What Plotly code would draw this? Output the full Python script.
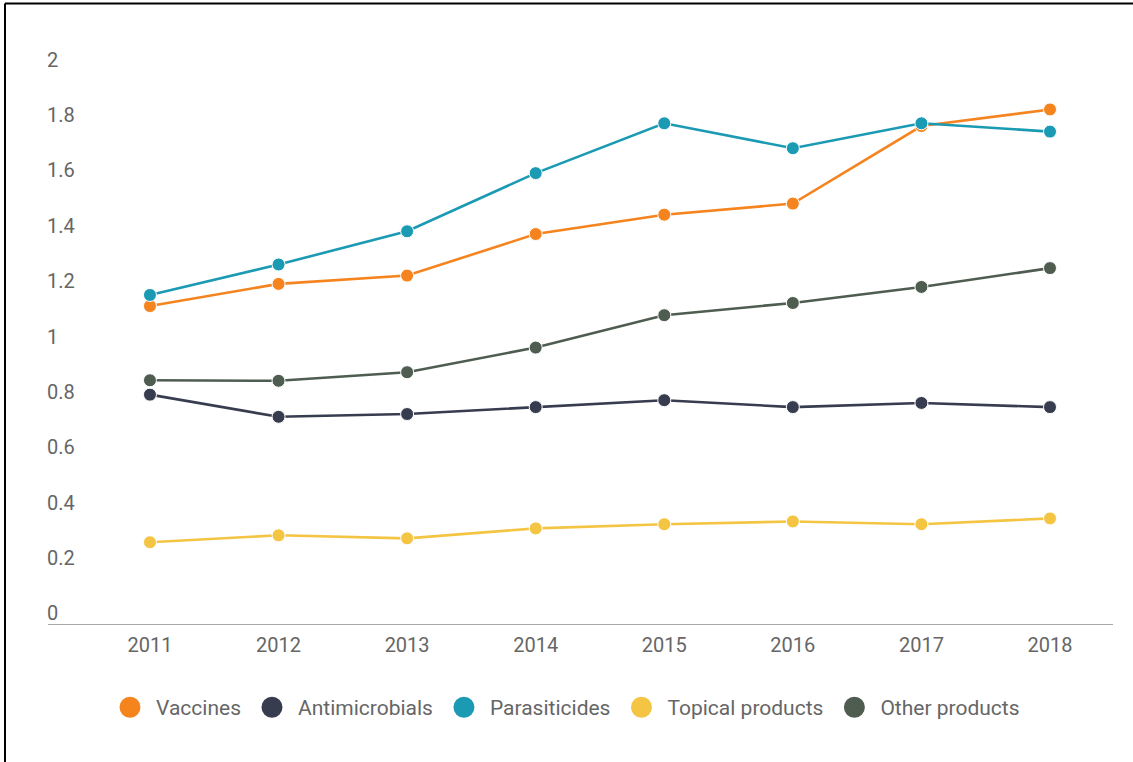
import plotly.graph_objects as go

years = [2011, 2012, 2013, 2014, 2015, 2016, 2017, 2018]

vaccines = [1.15, 1.23, 1.26, 1.41, 1.48, 1.52, 1.80, 1.86]
antimicrobials = [0.83, 0.75, 0.76, 0.785, 0.81, 0.785, 0.80, 0.785]
parasiticides = [1.19, 1.30, 1.42, 1.63, 1.81, 1.72, 1.81, 1.78]
topical_products = [0.297, 0.322, 0.311, 0.347, 0.362, 0.372, 0.362, 0.383]
other_products = [0.882, 0.88, 0.911, 1.0, 1.117, 1.161, 1.219, 1.287]

y_ticks = [0, 0.2, 0.4, 0.6, 0.8, 1, 1.2, 1.4, 1.6, 1.8, 2]
y_tick_labels = ["0", "0.2", "0.4", "0.6", "0.8", "1", "1.2", "1.4", "1.6", "1.8", "2"]

series = [
    ("Vaccines", vaccines, "#f5841f"),
    ("Antimicrobials", antimicrobials, "#373c4f"),
    ("Parasiticides", parasiticides, "#1b9ab3"),
    ("Topical products", topical_products, "#f4c443"),
    ("Other products", other_products, "#4e5d50"),
]

fig = go.Figure()
for name, vals, color in series:
    fig.add_trace(go.Scatter(
        x=years, y=vals, name=name, mode="lines+markers", showlegend=False,
        line=dict(color=color, width=2.6),
        marker=dict(size=13, color=color, line=dict(color="white", width=1)),
    ))

# legend entries: plain dots only
for name, vals, color in series:
    fig.add_trace(go.Scatter(
        x=[None], y=[None], name=name, mode="markers",
        marker=dict(size=16, color=color, line=dict(color=color, width=5)),
    ))

W, H = 1133, 762
y_bottom, y_top = -0.02, 2.1
unit_px = 276.5
baseline_px = 624
ml, mr = 48, 20
mb = H - baseline_px + y_bottom * unit_px
mt = H - mb - (y_top - y_bottom) * unit_px
pw, ph = W - ml - mr, H - mt - mb

def px_to_paper(px, py):
    return (px - ml) / pw, (H - mb - py) / ph

x0, y0 = px_to_paper(5, 4)
x1, _ = px_to_paper(W, 4)
_, y1 = px_to_paper(5, H)

fig.update_layout(
    width=W, height=H,
    margin=dict(l=ml, r=mr, t=mt, b=mb),
    paper_bgcolor="white", plot_bgcolor="white",
    font=dict(family="Roboto", color="#666666", size=20),
    xaxis=dict(
        range=[2010.207, 2018.49], tickvals=years,
        ticktext=[str(y) for y in years],
        showgrid=False, zeroline=False, showline=False,
        ticks="", ticklabelstandoff=1,
        tickfont=dict(size=20, color="#666666"),
    ),
    yaxis=dict(
        range=[y_bottom, y_top], tickvals=y_ticks, ticktext=y_tick_labels,
        showgrid=False, zeroline=True, zerolinecolor="#a8a8a8", zerolinewidth=1.2,
        showline=False, ticks="",
        ticklabelposition="inside top", ticklabelstandoff=-4, ticklabelshift=3,
        tickfont=dict(size=20, color="#666666"),
    ),
    legend=dict(
        orientation="h", x=0.5 - 16 / pw, xanchor="center", y=px_to_paper(0, 707)[1],
        yanchor="middle", font=dict(size=21, color="#666666"),
        itemsizing="trace", itemwidth=42,
    ),
    shapes=[
        dict(type="line", xref="paper", yref="paper", x0=x0, y0=y0, x1=x1, y1=y0,
             line=dict(color="black", width=2)),
        dict(type="line", xref="paper", yref="paper", x0=x0, y0=y0, x1=x0, y1=y1,
             line=dict(color="black", width=2)),
    ],
)

fig.write_html("out.html")
